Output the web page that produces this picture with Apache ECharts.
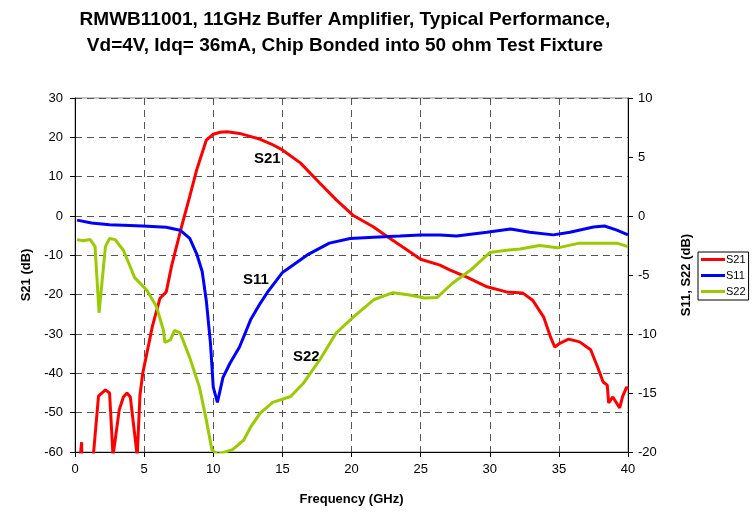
<!DOCTYPE html>
<html>
<head>
<meta charset="utf-8">
<script src="https://cdn.jsdelivr.net/npm/echarts@6/dist/echarts.min.js"></script>
<style>
  html, body { margin: 0; padding: 0; background: #fff; }
  #chart { width: 752px; height: 512px; }
</style>
</head>
<body>
<div id="chart"></div>
<script>
// frequency (GHz), value pairs
const s21 = [
  [0.0, -75], [0.48, -57.5], [0.52, -75], [1.25, -64], [1.7, -45.8], [2.2, -44.2], [2.5, -45],
  [2.75, -61], [3.2, -49.3], [3.5, -46], [3.76, -45], [4.0, -46], [4.5, -61], [4.7, -45.5],
  [4.9, -40], [5.6, -28], [6.15, -20.9], [6.6, -19.3], [7.0, -12.5], [7.7, -2.8], [8.3, 5],
  [8.8, 11.7], [9.5, 19.3], [10.0, 20.8], [10.5, 21.3], [11, 21.4], [11.9, 21.0], [12.6, 20.3],
  [13.4, 19.5], [14.2, 18.3], [15, 16.8], [16.3, 13.5], [17.7, 8.4], [18.9, 4.1], [20.1, 0.2],
  [21.6, -2.8], [22.6, -5.3], [24, -8.6], [25, -11], [26.4, -12.5], [27.1, -13.7], [28.3, -15.5],
  [29.8, -18], [31.2, -19.3], [32.4, -19.6], [33.1, -21.4], [33.9, -25.7], [34.4, -30.8],
  [34.7, -33.3], [35.1, -32.3], [35.7, -31.3], [36.5, -32], [37.3, -34], [37.8, -38.4],
  [38.2, -42.2], [38.5, -43], [38.6, -47.5], [38.9, -46], [39.4, -48.8], [39.6, -46],
  [39.9, -43.5], [40, -44]
];
const s11 = [
  [0.15, -0.35], [1.2, -0.6], [2.5, -0.75], [4.9, -0.85], [6.6, -0.95], [7.6, -1.2], [8.3, -1.9],
  [8.8, -3.2], [9.2, -4.7], [9.5, -7.2], [9.8, -10.8], [10.0, -14.5], [10.3, -15.8],
  [10.7, -13.7], [11.2, -12.5], [11.9, -11.1], [12.7, -8.8], [13.4, -7.4], [13.9, -6.5],
  [15.0, -4.8], [15.6, -4.3], [16.8, -3.3], [18.4, -2.3], [19.9, -1.9], [21.6, -1.8],
  [23.5, -1.7], [25, -1.6], [26.4, -1.6], [27.6, -1.7], [29.8, -1.37], [31.5, -1.1],
  [32.9, -1.37], [34.6, -1.6], [35.8, -1.37], [37.5, -0.93], [38.3, -0.85], [39.2, -1.2],
  [40, -1.6]
];
const s22 = [
  [0.15, -2.0], [0.6, -2.1], [1.1, -2.0], [1.45, -2.6], [1.74, -8.2], [2.2, -2.6], [2.5, -1.9],
  [2.9, -2.0], [3.5, -2.9], [4.1, -4.6], [4.3, -5.2], [5.2, -6.3], [5.9, -7.7], [6.4, -9.7],
  [6.5, -10.7], [6.9, -10.5], [7.2, -9.7], [7.6, -9.9], [8.3, -12], [9.0, -14.5], [9.5, -17.3],
  [9.9, -19.8], [10.3, -20.2], [11.4, -19.8], [12.2, -19], [12.7, -17.9], [13.4, -16.7],
  [14.3, -15.8], [15.6, -15.3], [16.5, -14.2], [17.7, -12.2], [18.9, -9.9], [20.1, -8.6],
  [21.6, -7.1], [23, -6.5], [24.2, -6.7], [25.3, -6.95], [26.2, -6.9], [27.3, -5.7],
  [28.6, -4.6], [30.0, -3.1], [31.2, -2.9], [32.2, -2.8], [33.6, -2.5], [34.9, -2.7],
  [36.5, -2.3], [38.2, -2.3], [39.2, -2.3], [40, -2.6]
];
const seriesNames = ['S21', 'S11', 'S22'];
const seriesColors = ['#ff0000', '#0000ff', '#99cc00'];

const chart = echarts.init(document.getElementById('chart'));
const font = 'Liberation Sans, Arial, sans-serif';

const option = {
  animation: false,
  textStyle: { fontFamily: font },
  title: {
    text: 'RMWB11001, 11GHz Buffer Amplifier, Typical Performance,\nVd=4V, Idq= 36mA, Chip Bonded into 50 ohm Test Fixture',
    left: 340,
    top: 2,
    textAlign: 'center',
    textStyle: { fontSize: 19, fontWeight: 'bold', color: '#000', lineHeight: 26, fontFamily: font }
  },
  legend: {
    orient: 'vertical',
    left: 698,
    top: 252,
    data: seriesNames,
    icon: 'rect',
    itemWidth: 24,
    itemHeight: 3,
    itemGap: 5,
    padding: [2, 3, 3, 3],
    backgroundColor: '#fff',
    borderColor: '#000',
    borderWidth: 1,
    borderRadius: 0,
    textStyle: { fontSize: 11, color: '#000', padding: [0, 0, 0, -4] }
  },
  grid: {
    left: 75, right: 124, top: 98, bottom: 60,
    show: true, borderColor: '#888', borderWidth: 1
  },
  xAxis: {
    type: 'value', min: 0, max: 40, interval: 5,
    name: 'Frequency (GHz)', nameLocation: 'middle', nameGap: 41,
    nameTextStyle: { fontSize: 13, fontWeight: 'bold', color: '#000' },
    axisLine: { onZero: false, lineStyle: { color: '#000', width: 1 } },
    axisTick: { show: true, length: 5, lineStyle: { color: '#000' } },
    axisLabel: { fontSize: 13, color: '#000', margin: 11 },
    splitLine: { show: true, lineStyle: { color: '#555', type: [7, 5], width: 1 } }
  },
  yAxis: [
    {
      type: 'value', min: -60, max: 30, interval: 10,
      name: 'S21 (dB)', nameLocation: 'middle', nameGap: 40, nameRotate: 90,
      nameTextStyle: { fontSize: 13, fontWeight: 'bold', color: '#000' },
      axisLine: { show: true, lineStyle: { color: '#000', width: 1 } },
      axisTick: { show: true, length: 5, lineStyle: { color: '#000' } },
      axisLabel: { fontSize: 13, color: '#000', margin: 12 },
      splitLine: { show: true, lineStyle: { color: '#555', type: [7, 5], width: 1 } }
    },
    {
      type: 'value', min: -20, max: 10, interval: 5, position: 'right',
      name: 'S11, S22 (dB)', nameLocation: 'middle', nameGap: 52, nameRotate: 90,
      nameTextStyle: { fontSize: 13, fontWeight: 'bold', color: '#000' },
      axisLine: { show: true, lineStyle: { color: '#000', width: 1 } },
      axisTick: { show: true, length: 5, lineStyle: { color: '#000' } },
      axisLabel: { fontSize: 13, color: '#000', margin: 10 },
      splitLine: { show: false }
    }
  ],
  graphic: [
    { type: 'text', left: 254, top: 151, style: { text: 'S21', font: 'bold 15px ' + font, fill: '#000' } },
    { type: 'text', left: 243, top: 272, style: { text: 'S11', font: 'bold 15px ' + font, fill: '#000' } },
    { type: 'text', left: 293, top: 349, style: { text: 'S22', font: 'bold 15px ' + font, fill: '#000' } }
  ],
  series: [
    { name: 'S21', type: 'line', yAxisIndex: 0, data: s21, showSymbol: false, clip: true,
      lineStyle: { width: 3, color: seriesColors[0] }, itemStyle: { color: seriesColors[0] } },
    { name: 'S11', type: 'line', yAxisIndex: 1, data: s11, showSymbol: false, clip: true,
      lineStyle: { width: 3, color: seriesColors[1] }, itemStyle: { color: seriesColors[1] } },
    { name: 'S22', type: 'line', yAxisIndex: 1, data: s22, showSymbol: false, clip: true,
      lineStyle: { width: 3, color: seriesColors[2] }, itemStyle: { color: seriesColors[2] } }
  ]
};
chart.setOption(option);
</script>
</body>
</html>
